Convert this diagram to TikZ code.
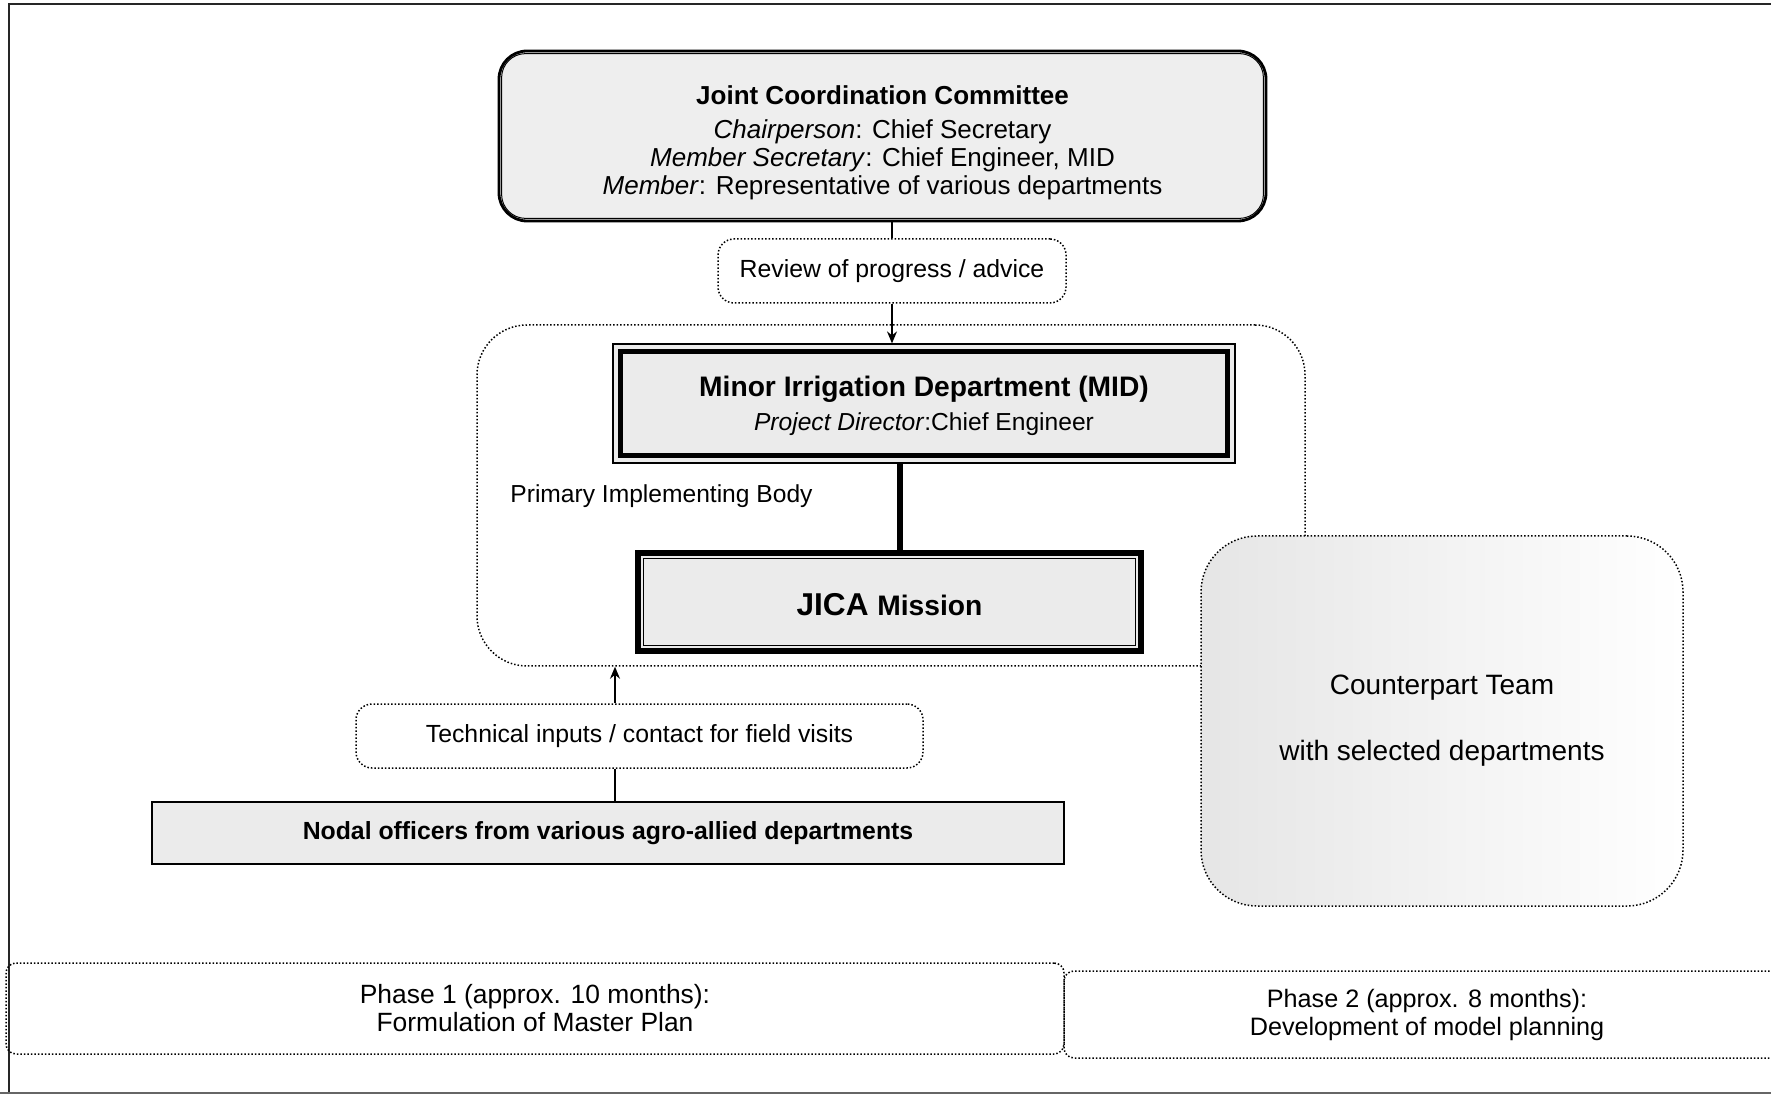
\documentclass[tikz,border=0pt]{standalone}
\usepackage{fontspec}
\setmainfont{Liberation Sans}
\usetikzlibrary{arrows.meta}
\begin{document}
\begin{tikzpicture}[x=0.5pt,y=-0.5pt,
  dotbox/.style={draw, densely dotted, line width=0.75pt, rounded corners=#1, align=center, inner sep=0pt},
  graybox/.style={fill=gray!16, align=center, inner sep=0pt},
  txt/.style={align=center, inner sep=0pt},
  conn/.style={line width=0.7pt},
  arr/.style={line width=0.7pt, -{Stealth[length=6pt,width=5pt]}}
]
\useasboundingbox (0,0) rectangle (1771,1095);
\clip (0,0) rectangle (1771,1095);

% outer frame
\draw[line width=1.3pt, black!85] (9,1094) -- (9,4) -- (1771,4);
\draw[line width=1pt, black!60] (0,1093) -- (1771,1093);

% container: primary implementing body
\node[dotbox=25pt, minimum width=414pt, minimum height=170.5pt] (pib) at (891,495.5) {};
\node[anchor=west, inner sep=0pt, font=\fontsize{12.3}{14}\selectfont] (pibl) at (510,496) {Primary Implementing Body};

% Joint Coordination Committee
\node[graybox, fill=gray!13, draw, line width=1.4pt, rounded corners=14pt,
      minimum width=383.5pt, minimum height=85pt] (jcc) at (882.5,136) {};
\draw[line width=0.5pt, rounded corners=12pt] ([shift={(4,4)}]jcc.north west) rectangle ([shift={(-4,-4)}]jcc.south east);
\node[txt, font=\fontsize{13}{14}\selectfont] (jcct) at ([yshift=-3.4pt]jcc.center)
  {\textbf{Joint Coordination Committee}\\[3pt]
   \textit{Chairperson}: Chief Secretary\\
   \textit{Member Secretary}: Chief Engineer, MID\\
   \textit{Member}: Representative of various departments};

% Review box
\node[dotbox=8pt, minimum width=174pt, minimum height=32pt, font=\fontsize{12.4}{14}\selectfont] (rev) at (892,271)
  {Review of progress / advice};

% MID
\node[graybox, draw, line width=0.6pt, minimum width=311pt, minimum height=59.5pt] (mid) at (924,403.5) {};
\draw[line width=2.6pt] ([shift={(8,8)}]mid.north west) rectangle ([shift={(-8,-8)}]mid.south east);
\node[txt, font=\fontsize{14.1}{17}\selectfont] (midt) at ([yshift=-1pt]mid.center)
  {\textbf{Minor Irrigation Department (MID)}\\
   {\fontsize{12.3}{14}\selectfont\textit{Project Director}:Chief Engineer}};

% JICA
\node[graybox, draw, line width=2.6pt, minimum width=251.5pt, minimum height=49pt] (jica) at (889.5,602) {};
\draw[line width=0.6pt] ([shift={(8,8)}]jica.north west) rectangle ([shift={(-8,-8)}]jica.south east);
\node[inner sep=0pt] (jicat) at ([yshift=-1.5pt]jica.center) {\textbf{\fontsize{15.8}{18}\selectfont JICA \fontsize{14.1}{16}\selectfont Mission}};

% Technical inputs
\node[dotbox=8pt, minimum width=283.5pt, minimum height=32pt, font=\fontsize{12.4}{14}\selectfont] (tech) at (639.5,736)
  {Technical inputs / contact for field visits};

% Nodal officers
\node[graybox, draw, line width=0.8pt, minimum width=456pt, minimum height=31pt, font=\fontsize{12.4}{14}\selectfont] (nodal) at (608,833)
  {\textbf{Nodal officers from various agro-allied departments}};

% Counterpart team
\node[dotbox=28pt, left color=gray!20, right color=white, minimum width=241pt, minimum height=185pt,
      font=\fontsize{14}{16}\selectfont] (cpt) at (1442,721)
  {Counterpart Team\\[17pt] with selected departments};

% Phases
\node[dotbox=5pt, minimum width=529pt, minimum height=45.5pt, font=\fontsize{13.2}{14}\selectfont] (ph1) at (535,1008.5)
  {Phase 1 (approx. 10 months):\\ Formulation of Master Plan};
\node[dotbox=5pt, minimum width=363pt, minimum height=43.5pt, font=\fontsize{12.6}{14}\selectfont] (ph2) at (1427,1014.5)
  {Phase 2 (approx. 8 months):\\ Development of model planning};

% connectors
\draw[conn] (rev.north |- jcc.south) -- (rev.north);
\draw[arr] (rev.south) -- (rev.south |- mid.north);
\draw[line width=2.6pt] ([xshift=5.25pt]jica.north |- mid.south) -- ([xshift=5.25pt]jica.north);
\coordinate (ax) at (615,0);
\draw[arr] (tech.north -| ax) -- (pib.south -| ax);
\draw[conn] (nodal.north -| ax) -- (tech.south -| ax);
\end{tikzpicture}
\end{document}
